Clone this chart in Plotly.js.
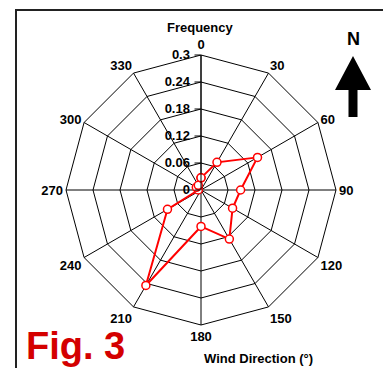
<!DOCTYPE html>
<html>
<head>
<meta charset="utf-8">
<script src="https://cdn.plot.ly/plotly-3.0.1.min.js"></script>
<style>html,body{margin:0;padding:0;background:#fff;}#chart{width:383px;height:368px;}</style>
</head>
<body>
<div id="chart"></div>
<script>
const directions = ['0','30','60','90','120','150','180','210','240','270','300','330'];
const frequency  = [0.027, 0.071, 0.145, 0.088, 0.081, 0.126, 0.081, 0.245, 0.086, 0.006, 0.012, 0.012];
const radialTicks = [0, 0.06, 0.12, 0.18, 0.24, 0.3];
const radialTickText = ['0', '0.06', '0.12', '0.18', '0.24', '0.3'];

const L = 66, T = 55, W = 270, H = 270;
const px = x => (x - L) / W;
const py = y => 1 - (y - T) / H;

const FONT = 'Liberation Sans, Arial, Helvetica, sans-serif';

const trace = {
  type: 'scatterpolar',
  mode: 'lines+markers',
  theta: directions.concat([directions[0]]),
  r: frequency.concat([frequency[0]]),
  line: {color: '#ff0000', width: 2},
  marker: {symbol: 'circle', size: 8, color: '#ffffff', line: {color: '#ff0000', width: 1.5}},
  cliponaxis: false,
  showlegend: false,
  hoverinfo: 'skip'
};

const layout = {
  width: 383, height: 368,
  margin: {l: L, r: 383 - L - W, t: T, b: 368 - T - H},
  paper_bgcolor: '#ffffff',
  showlegend: false,
  font: {family: FONT, size: 13, color: '#000', weight: 'bold'},
  polar: {
    domain: {x: [0, 1], y: [0, 1]},
    bgcolor: '#ffffff',
    gridshape: 'linear',
    angularaxis: {
      type: 'category',
      categoryarray: directions,
      rotation: 90,
      direction: 'clockwise',
      showline: true, linecolor: '#000', linewidth: 1,
      showgrid: true, gridcolor: '#000', gridwidth: 1,
      ticks: '',
      tickfont: {family: FONT, size: 13, color: '#000', weight: 'bold'}
    },
    radialaxis: {
      range: [0, 0.3],
      angle: 90,
      side: 'counterclockwise',
      tickvals: radialTicks,
      ticktext: radialTickText,
      showline: true, linecolor: '#000', linewidth: 1,
      showgrid: true, gridcolor: '#000', gridwidth: 1,
      ticks: 'outside', ticklen: 6, tickcolor: '#000',
      tickangle: 90,
      tickfont: {family: FONT, size: 13, color: '#000', weight: 'bold'}
    }
  },
  shapes: [
    {type: 'rect', xref: 'paper', yref: 'paper', x0: px(16), x1: px(400), y0: py(10), y1: py(390),
     line: {color: '#222', width: 2}, fillcolor: 'rgba(0,0,0,0)'},
    {type: 'path', xref: 'paper', yref: 'paper',
     path: `M ${px(353)} ${py(56)} L ${px(371)} ${py(90)} L ${px(357.5)} ${py(90)} L ${px(357.5)} ${py(117)} L ${px(348.5)} ${py(117)} L ${px(348.5)} ${py(90)} L ${px(335)} ${py(90)} Z`,
     fillcolor: '#000', line: {color: '#000', width: 0}}
  ],
  annotations: [
    {text: 'Frequency', xref: 'paper', yref: 'paper', x: px(200), y: py(28), showarrow: false,
     font: {family: FONT, size: 13, color: '#000', weight: 'bold'}, xanchor: 'center', yanchor: 'middle'},
    {text: 'N', xref: 'paper', yref: 'paper', x: px(353), y: py(39), showarrow: false,
     font: {family: FONT, size: 18, color: '#000', weight: 'bold'}, xanchor: 'center', yanchor: 'middle'},
    {text: 'Wind Direction (°)', xref: 'paper', yref: 'paper', x: px(258), y: py(358), showarrow: false,
     font: {family: FONT, size: 13, color: '#000', weight: 'bold'}, xanchor: 'center', yanchor: 'middle'},
    {text: 'Fig. 3', xref: 'paper', yref: 'paper', x: px(25), y: py(368), showarrow: false,
     font: {family: FONT, size: 38, color: '#d40000', weight: 'bold'}, xanchor: 'left', yanchor: 'bottom',
     borderpad: 0}
  ]
};

Plotly.newPlot('chart', [trace], layout, {displayModeBar: false, staticPlot: true});
</script>
</body>
</html>
